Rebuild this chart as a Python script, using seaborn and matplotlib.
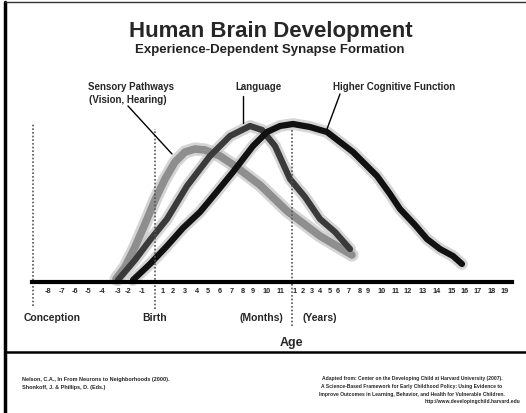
import numpy as np
import matplotlib
matplotlib.use("Agg")
import matplotlib.pyplot as plt
import seaborn as sns
from matplotlib.lines import Line2D

# axis tick labels (prenatal months, months after birth, years)
prenatal_labels = ["-8", "-7", "-6", "-5", "-4", "-3", "-2", "-1"]
month_labels = [str(m) for m in range(1, 12)]
year_labels = [str(y) for y in range(1, 20)]

# x positions of the labels along the (hand drawn, uneven) age axis
prenatal_pos = [48, 62, 75, 88, 102, 118, 128, 142]
month_pos = [163, 173, 185, 197, 208, 220, 232, 243, 253, 267, 280]
year_pos = [295, 303, 312, 320, 330, 338, 349, 360, 368, 382, 395,
            408, 423, 437, 452, 465, 478, 492, 505]

# curves: age position vs relative synapse formation
sensory_age = [116, 125, 135, 145, 155, 165, 175, 185, 195, 205, 220, 235, 260, 287, 320, 352]
sensory_val = [3, 15, 35, 58, 82, 103, 120, 130, 133, 132, 126, 116, 97, 71, 46, 27]

language_age = [118, 135, 150, 167, 187, 210, 230, 250, 262, 275, 290, 305, 320, 335, 350]
language_val = [2, 22, 42, 63, 96, 126, 146, 156, 152, 136, 103, 85, 63, 50, 33]

higher_age = [133, 150, 167, 183, 200, 215, 233, 253, 267, 280, 293, 310, 327,
              340, 353, 365, 377, 390, 400, 415, 427, 440, 453, 462]
higher_val = [2, 18, 36, 54, 70, 88, 110, 136, 150, 156, 158, 155, 150,
              140, 130, 118, 106, 88, 73, 57, 43, 33, 26, 18]

sns.set_style("white")
plt.rcParams["font.family"] = ["Liberation Sans", "DejaVu Sans"]

W, H = 526, 414
fig = plt.figure(figsize=(W / 100, H / 100), dpi=100)
ax = fig.add_axes([32 / W, 1 - 330 / H, 480 / W, 235 / H])
ax.set_xlim(32, 512)
ax.set_ylim(-47, 188)

# curves with a soft grey halo like the scanned original
curves = [
    (sensory_age, sensory_val, "#8e8e8e", 5.5),
    (language_age, language_val, "#3a3a3a", 4.5),
    (higher_age, higher_val, "#111111", 4.5),
]
for xs, ys, col, lw in curves:
    sns.lineplot(x=xs, y=ys, ax=ax, color="#c4c4c4", lw=lw + 4, sort=False,
                 solid_capstyle="round", solid_joinstyle="round", alpha=0.7)
for xs, ys, col, lw in curves:
    sns.lineplot(x=xs, y=ys, ax=ax, color=col, lw=lw, sort=False,
                 solid_capstyle="round", solid_joinstyle="round")

# dashed reference lines: conception, birth, months/years
ax.vlines([33, 155, 292], [-24, -27, -44], [158, 153, 153],
          colors="#555555", linestyles=(0, (1, 1.2)), lw=1.2)

# axis
for s in ["top", "right", "left"]:
    ax.spines[s].set_visible(False)
ax.spines["bottom"].set_position(("data", 0))
ax.spines["bottom"].set_linewidth(3)
ax.spines["bottom"].set_color("black")
ax.set_xticks(prenatal_pos + month_pos + year_pos)
ax.set_xticklabels(prenatal_labels + month_labels + year_labels,
                   fontsize=5.3, fontweight="bold")
ax.tick_params(axis="x", length=2, width=0.8, pad=1.5, direction="out")
ax.set_yticks([])
ax.set_xlabel("")
ax.set_ylabel("")

# labels under the axis
for label, xp in [("Conception", 52), ("Birth", 155), ("(Months)", 261), ("(Years)", 320)]:
    ax.text(xp, -35, label, ha="center", va="center", fontsize=7.5, fontweight="bold")

# curve names with pointer lines
ax.text(131, 196, "Sensory Pathways", ha="center", va="center", fontsize=7, fontweight="bold", clip_on=False)
ax.text(128, 183, "(Vision, Hearing)", ha="center", va="center", fontsize=7, fontweight="bold", clip_on=False)
ax.text(258, 196, "Language", ha="center", va="center", fontsize=7, fontweight="bold", clip_on=False)
ax.text(394, 196, "Higher Cognitive Function", ha="center", va="center", fontsize=7, fontweight="bold", clip_on=False)
ax.plot([128, 172], [176, 128], color="black", lw=1, clip_on=False)
ax.plot([243, 243], [186, 159], color="black", lw=1, clip_on=False)
ax.plot([340, 327], [188, 153], color="black", lw=1, clip_on=False)

# titles
fig.text(271 / W, 1 - 31 / H, "Human Brain Development", ha="center", va="center",
         fontsize=16, fontweight="bold")
fig.text(270 / W, 1 - 50 / H, "Experience-Dependent Synapse Formation", ha="center", va="center",
         fontsize=9.5, fontweight="bold", color="#222222")
fig.text(291 / W, 1 - 343 / H, "Age", ha="center", va="center", fontsize=9, fontweight="bold")

# frame lines
fig.add_artist(Line2D([5 / W, 5 / W], [0, 1 - 3 / H], color="black", lw=2.5))
fig.add_artist(Line2D([5 / W, 1], [1 - 3 / H, 1 - 3 / H], color="#333333", lw=1))
fig.add_artist(Line2D([5 / W, 1], [1 - 353 / H, 1 - 353 / H], color="black", lw=1.8))

# sources
fig.text(22 / W, 1 - 380 / H, "Nelson, C.A., In From Neurons to Neighborhoods (2000).",
         ha="left", va="center", fontsize=4, fontweight="bold")
fig.text(22 / W, 1 - 388 / H, "Shonkoff, J. & Phillips, D. (Eds.)",
         ha="left", va="center", fontsize=4, fontweight="bold")
right_lines = [
    "Adapted from: Center on the Developing Child at Harvard University (2007).",
    "A Science-Based Framework for Early Childhood Policy: Using Evidence to",
    "Improve Outcomes in Learning, Behavior, and Health for Vulnerable Children.",
]
for i, line in enumerate(right_lines):
    fig.text(412 / W, 1 - (379 + 8 * i) / H, line, ha="center", va="center",
             fontsize=3.6, fontweight="bold")
fig.text(520 / W, 1 - 402 / H, "http://www.developingchild.harvard.edu",
         ha="right", va="center", fontsize=3.6, fontweight="bold")

fig.savefig("out.png", dpi=100, facecolor="white")
